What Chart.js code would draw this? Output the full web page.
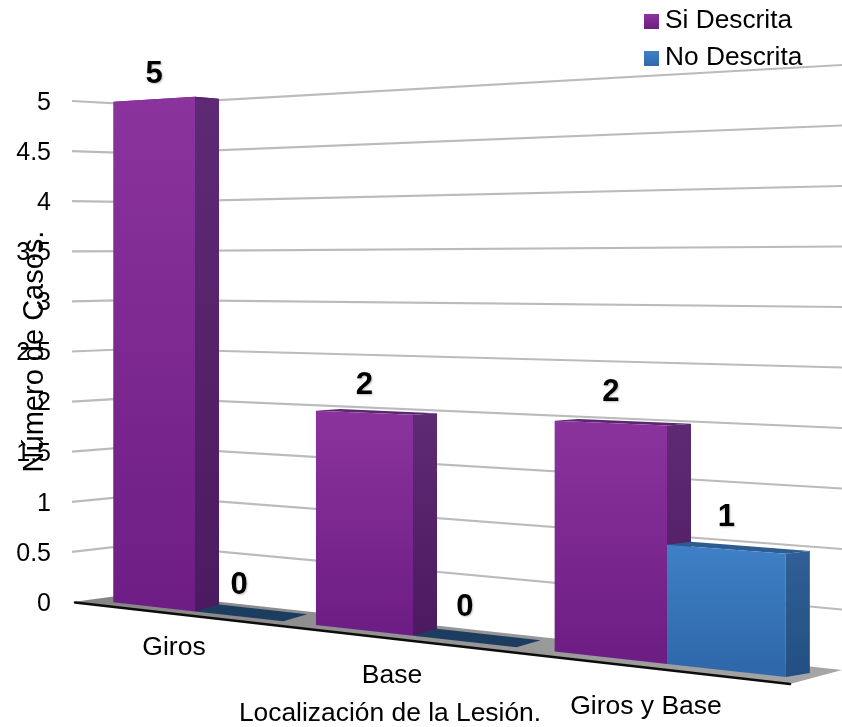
<!DOCTYPE html>
<html lang="es">
<head>
<meta charset="utf-8">
<title>Localización de la Lesión</title>
<style>
  html, body { margin: 0; padding: 0; background: #ffffff; }
  canvas { display: block; }
</style>
<script src="https://cdn.jsdelivr.net/npm/chart.js@4/dist/chart.umd.min.js"></script>
</head>
<body>
<canvas id="chart" width="842" height="727"></canvas>
<script>
const categories = ['Giros', 'Base', 'Giros y Base'];
const siDescrita = [5, 2, 2];
const noDescrita = [0, 0, 1];
const seriesNames = ['Si Descrita', 'No Descrita'];
const yTicks = [0, 0.5, 1, 1.5, 2, 2.5, 3, 3.5, 4, 4.5, 5];

const FONT = '"Liberation Sans", Arial, sans-serif';

// Face colours of the extruded columns, by series.
const faces = [
  { base: '#7f2a93', light: '#8b339d', dark: '#6d1e84', sideA: '#5f2a74', sideB: '#4c1a60', top: '#5b2670' },
  { base: '#3b78bd', light: '#3f80c6', dark: '#2f69ab', sideA: '#2f5f96', sideB: '#234f82', top: '#2c5c90' }
];
const flatTop = '#1c3d5f';

// Perspective of the scene: native plot coordinates to the drawn oblique view.
const DEPTH = 24;
const UNIT = 100.2;

function sceneX(chart, px) {
  const a = chart.chartArea;
  const c = categories.length * (px - a.left) / (a.right - a.left);
  return 99.5 + 182 * c + 18 * c * c;
}
const frontBase = x => 602 + (x - 110) * 0.1111;
const frontUnit = x => 100 + (x - 110) * 0.0345;
function frontY(chart, x, py) {
  const v = (chart.chartArea.bottom - py) / UNIT;
  return frontBase(x) - v * frontUnit(x);
}
function backOf(chart, x, y, py) {
  const v = (chart.chartArea.bottom - py) / UNIT;
  return [x + DEPTH, y - 4 + v * 1.2];
}

function poly(ctx, pts, fill) {
  ctx.beginPath();
  pts.forEach((p, i) => i ? ctx.lineTo(p[0], p[1]) : ctx.moveTo(p[0], p[1]));
  ctx.closePath();
  ctx.fillStyle = fill;
  ctx.fill();
}

function vGrad(ctx, y0, y1, a, b) {
  const g = ctx.createLinearGradient(0, y0, 0, y1);
  g.addColorStop(0, a);
  g.addColorStop(1, b);
  return g;
}

function drawFloor(chart) {
  const ctx = chart.ctx;
  const g = ctx.createLinearGradient(73, 0, 842, 0);
  g.addColorStop(0, '#858585');
  g.addColorStop(1, '#a6a6a6');
  poly(ctx, [[73, 602], [139, 593], [842, 670], [790, 684]], g);
}

function drawFloorEdge(chart) {
  const ctx = chart.ctx;
  ctx.save();
  ctx.strokeStyle = '#0d0d0d';
  ctx.lineWidth = 2.6;
  ctx.lineCap = 'round';
  ctx.beginPath();
  ctx.moveTo(75, 602.5);
  ctx.lineTo(790, 684);
  ctx.stroke();
  ctx.restore();
}

// Gridlines run along the side wall to the corner, then along the back wall.
function drawGrid(chart) {
  const ctx = chart.ctx;
  const y = chart.scales.y;
  const a = chart.chartArea;
  ctx.save();
  ctx.strokeStyle = '#bbbbbb';
  ctx.lineWidth = 2.2;
  yTicks.forEach(v => {
    if (v === 0) return;
    const d = a.bottom - y.getPixelForValue(v);
    ctx.beginPath();
    ctx.moveTo(a.left - 3, a.bottom - d);
    ctx.lineTo(139, 593 - d * 0.975);
    ctx.lineTo(842, 670 - d * 1.2076);
    ctx.stroke();
  });
  ctx.restore();
}

function drawColumn(chart, el, look, value) {
  const ctx = chart.ctx;
  const { x, y, base, width } = el.getProps(['x', 'y', 'base', 'width'], true);
  const xl = sceneX(chart, x - width / 2);
  const xr = sceneX(chart, x + width / 2);
  const tl = [xl, frontY(chart, xl, y)];
  const tr = [xr, frontY(chart, xr, y)];
  const bl = [xl, frontY(chart, xl, base)];
  const br = [xr, frontY(chart, xr, base)];
  const tlb = backOf(chart, tl[0], tl[1], y);
  const trb = backOf(chart, tr[0], tr[1], y);
  const brb = backOf(chart, br[0], br[1], base);

  if (value > 0) {
    poly(ctx, [tr, trb, brb, br], vGrad(ctx, tr[1], br[1], look.sideA, look.sideB));
    poly(ctx, [tl, tlb, trb, tr], look.top);
    poly(ctx, [tl, tr, br, bl], vGrad(ctx, tl[1], bl[1], look.light, look.dark));
  } else {
    // An empty column leaves only its footprint on the floor
    poly(ctx, [tl, [tlb[0], tlb[1] - 3], [trb[0], trb[1] - 3], tr], flatTop);
  }
  return { cx: (xl + xr) / 2, top: (tl[1] + tr[1]) / 2 };
}

const scenePlugin = {
  id: 'obliqueScene',
  beforeDatasetsDraw(chart) {
    const ctx = chart.ctx;
    drawGrid(chart);
    drawFloor(chart);
    drawFloorEdge(chart);

    const labels = [];
    categories.forEach((_, i) => {
      chart.data.datasets.forEach((ds, d) => {
        const el = chart.getDatasetMeta(d).data[i];
        const at = drawColumn(chart, el, faces[d], ds.data[i]);
        labels.push({ value: ds.data[i], cx: at.cx, top: at.top });
      });
    });

    // Value labels above each column
    ctx.save();
    ctx.font = 'bold 31px ' + FONT;
    ctx.textAlign = 'center';
    ctx.textBaseline = 'middle';
    ctx.fillStyle = '#000000';
    ctx.shadowColor = 'rgba(0,0,0,0.25)';
    ctx.shadowBlur = 2;
    ctx.shadowOffsetX = 1;
    ctx.shadowOffsetY = 1;
    labels.forEach(l => {
      const lift = 25 + (l.cx - 150) * 0.0125 + (l.value === 0 ? 5 : 0);
      ctx.fillText(String(l.value), l.cx, l.top - lift);
    });
    ctx.restore();

    // Category names follow the front edge of the floor
    const xs = chart.scales.x;
    ctx.save();
    ctx.font = '26.5px ' + FONT;
    ctx.textAlign = 'center';
    ctx.textBaseline = 'middle';
    ctx.fillStyle = '#000000';
    categories.forEach((name, i) => {
      const sx = sceneX(chart, xs.getPixelForValue(i));
      ctx.fillText(name, sx - 21, 648 + (sx - 195) * 0.125);
    });
    ctx.restore();

    // Series key in the upper right corner
    ctx.save();
    ctx.font = '26.3px ' + FONT;
    ctx.textAlign = 'left';
    ctx.textBaseline = 'middle';
    seriesNames.forEach((name, i) => {
      const yy = 21 + i * 37;
      const look = faces[i];
      ctx.fillStyle = vGrad(ctx, yy - 7, yy + 8, look.light, look.dark);
      ctx.fillRect(644, yy - 7, 15, 15);
      ctx.fillStyle = '#000000';
      ctx.fillText(name, 665, yy);
    });
    ctx.restore();
    return false;
  }
};

new Chart(document.getElementById('chart'), {
  type: 'bar',
  data: {
    labels: categories,
    datasets: [
      { label: seriesNames[0], data: siDescrita, backgroundColor: faces[0].base, categoryPercentage: 0.85, barPercentage: 1 },
      { label: seriesNames[1], data: noDescrita, backgroundColor: faces[1].base, categoryPercentage: 0.85, barPercentage: 1 }
    ]
  },
  options: {
    responsive: false,
    animation: false,
    layout: { padding: { top: 101, right: 137, bottom: 0, left: 0 } },
    plugins: { legend: { display: false }, tooltip: { enabled: false } },
    scales: {
      x: {
        grid: { display: false },
        border: { display: false },
        ticks: { display: false },
        title: {
          display: true,
          text: 'Localización de la Lesión.',
          color: '#000000',
          font: { family: FONT, size: 26.4 },
          padding: { top: 90, bottom: -3 }
        },
        afterFit: s => { s.height = 125; }
      },
      y: {
        min: 0,
        max: 5,
        grid: { display: false },
        border: { display: false },
        ticks: {
          stepSize: 0.5,
          padding: 16,
          labelOffset: 2,
          color: '#000000',
          font: { family: FONT, size: 25 },
          callback: v => String(v)
        },
        title: {
          display: true,
          text: 'Número de Casos.',
          color: '#000000',
          font: { family: FONT, size: 29 },
          padding: { top: 18, bottom: 0 }
        },
        afterFit: s => { s.width = 75; }
      }
    }
  },
  plugins: [scenePlugin]
});
</script>
</body>
</html>
